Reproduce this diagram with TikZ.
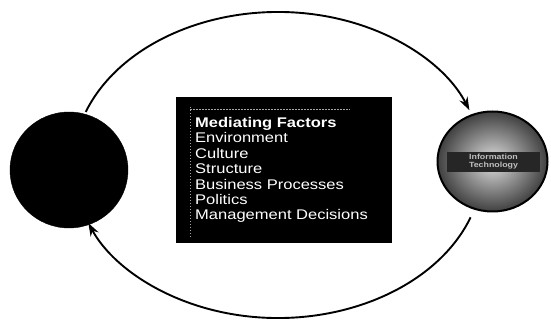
\documentclass[tikz,border=0pt]{standalone}
\usepackage{fontspec}
\setmainfont{Liberation Sans}
\newfontfamily\boxfont[FakeStretch=1.18]{Liberation Sans}
\usetikzlibrary{shapes.geometric,arrows.meta,calc}
\tikzset{
  flow/.style={line width=1.9pt,-{Stealth[length=13pt,width=9pt]}},
  blob/.style={ellipse,inner sep=0pt},
  dotline/.style={gray!70,line width=0.6pt,dash pattern=on 1.5pt off 1.5pt}
}
\begin{document}
\begin{tikzpicture}[x=1pt,y=1pt]
\useasboundingbox (0,0) rectangle (551,321);
% circles
\node[blob,fill=black,draw=black,minimum width=118pt,minimum height=116pt] (src) at (69,151) {};
\node[blob,inner color=gray!25,outer color=black!75,draw=black,line width=2pt,minimum width=110pt,minimum height=100pt] (it) at (492.5,159.5) {};
\node[fill=black!85,minimum width=93pt,minimum height=20pt,inner sep=0pt] (band) at (493.5,159) {};
\node[text=gray!50,font=\boxfont\fontsize{7.5}{8}\selectfont\bfseries,align=center,inner sep=0pt] (itlabel) at (band) {Information\\Technology};
% central box
\node[fill=black,minimum width=216pt,minimum height=146pt,inner sep=0pt] (box) at (284,151) {};
\coordinate (dA) at (190,214);
\coordinate (dB) at (190,84);
\coordinate (dC) at (350,212);
\draw[dotline] (dA) -- (dB);
\draw[dotline] (dA|-dC) -- (dC);
\node[text=white,anchor=west,align=left,inner sep=0pt,font=\boxfont\fontsize{14}{15.4}\selectfont] (factors) at (195,151)
{\textbf{Mediating Factors}\\Environment\\Culture\\Structure\\Business Processes\\Politics\\Management Decisions};
% connectors on the big loop
\coordinate (c) at (278,156);
\coordinate (tA) at ($(c)+(159.7:205 and 153)$);
\coordinate (bA) at ($(c)+(-20:205 and 153)$);
\draw[flow] (tA) arc[start angle=159.7,end angle=21,x radius=205,y radius=153];
\draw[flow] (bA) arc[start angle=-20,end angle=-157.7,x radius=205,y radius=153];
\end{tikzpicture}
\end{document}
